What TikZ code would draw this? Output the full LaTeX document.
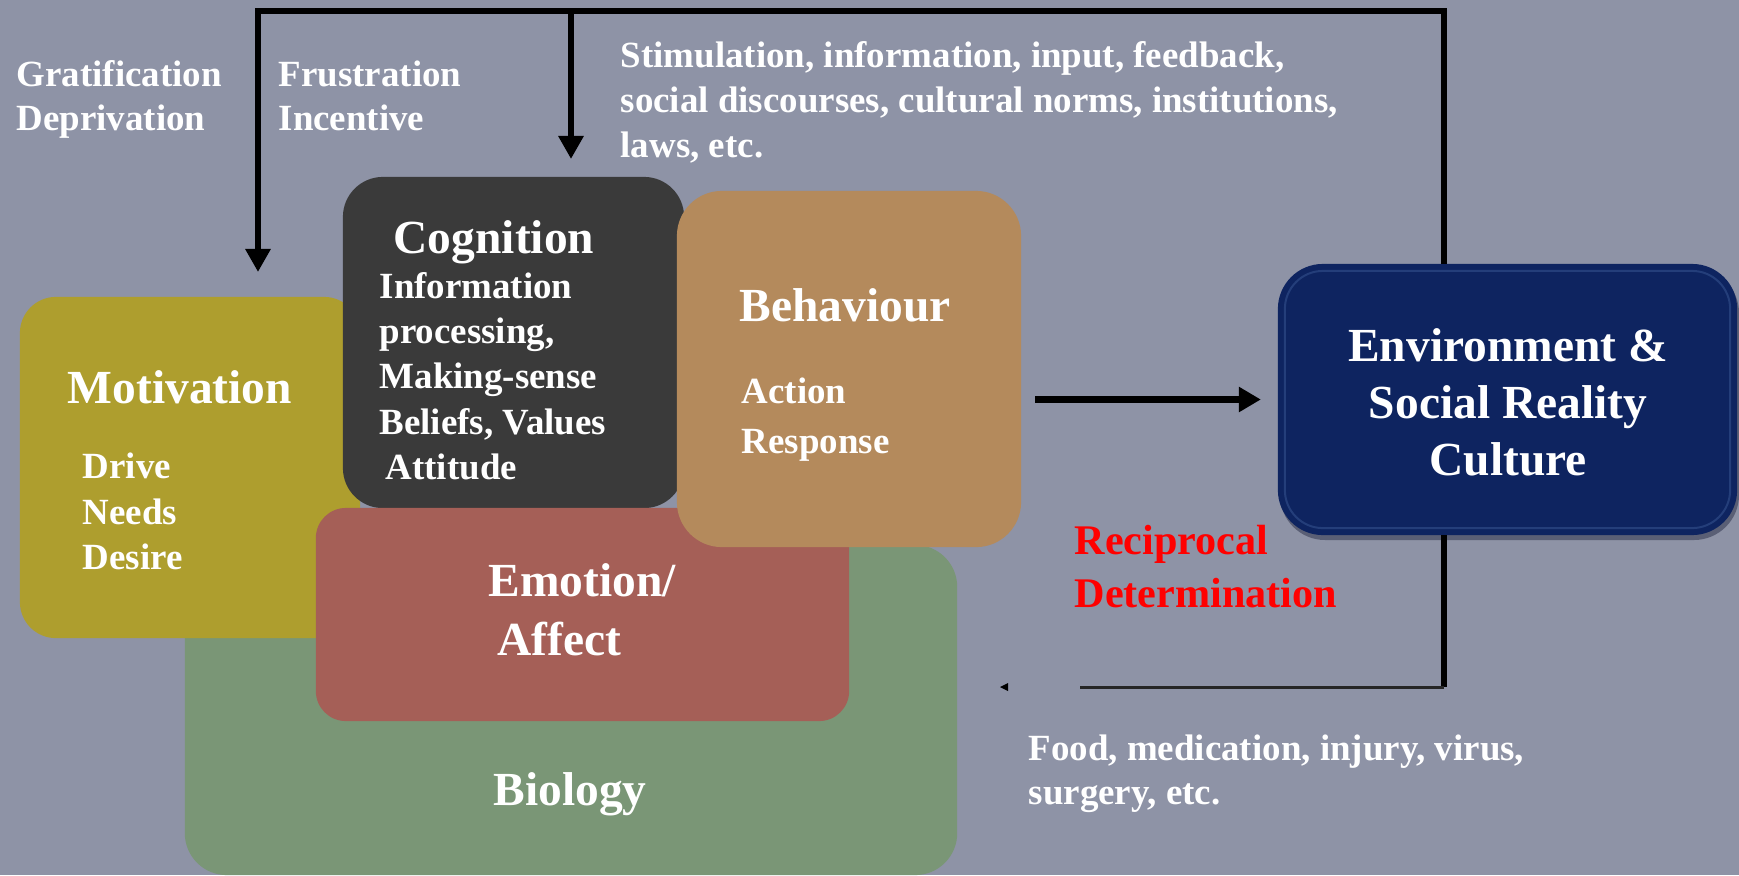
\documentclass[tikz,border=0pt]{standalone}
\usepackage{fontspec}
\setmainfont{Liberation Serif}
\usetikzlibrary{arrows.meta,positioning}

\definecolor{slateBg}{HTML}{8E93A6}
\definecolor{oliveBox}{HTML}{AE9E2E}
\definecolor{coalBox}{HTML}{3A3A3A}
\definecolor{tanBox}{HTML}{B48A5C}
\definecolor{brickBox}{HTML}{A55F57}
\definecolor{sageBox}{HTML}{7A9676}
\definecolor{navyBox}{HTML}{0E2460}
\definecolor{navyRim}{HTML}{243E7A}
\definecolor{navyShade}{HTML}{5A5F75}

\tikzset{
  panel/.style={inner sep=0pt, outer sep=0pt, rounded corners=#1},
  panel/.default=0.4cm,
  % multi-line labels sit on the baseline of their last line
  word/.style={text=white, font=\bfseries\fontsize{10.5}{#1}\selectfont,
    align=left, inner sep=0pt, anchor=base west},
  word/.default=12.5pt,
  title/.style={word, font=\bfseries\fontsize{13.5}{#1}\selectfont},
  title/.default=16.2pt,
  link/.style={line width=0.065cm, black},
  tip/.style={-{Triangle[length=0.23cm,width=0.24cm]}},
}

\begin{document}
\begin{tikzpicture}[x=0.01cm, y=-0.01cm]
  \useasboundingbox (0,0) rectangle (1739,875);
  \fill[slateBg] (0,0) rectangle (1739,875);

  % the five overlapping areas, back to front
  \node[panel=0.42cm, fill=sageBox, minimum width=7.72cm, minimum height=3.30cm] (bio) at (571,710) {};
  \node[panel=0.36cm, fill=oliveBox, minimum width=3.40cm, minimum height=3.41cm] (mot) at (190,467.5) {};
  \node[panel=0.40cm, fill=coalBox, minimum width=3.41cm, minimum height=3.31cm] (cog) at (513.5,342.5) {};
  \node[panel=0.30cm, fill=brickBox, minimum width=5.33cm, minimum height=2.13cm] (emo) at (582.5,614.5) {};
  \node[panel=0.45cm, fill=tanBox, minimum width=3.44cm, minimum height=3.56cm] (beh) at (849,369) {};

  % environment block with its rim
  \fill[navyShade, rounded corners=0.45cm] (1280,268) rectangle (1739,540);
  \node[panel=0.45cm, fill=navyBox, minimum width=4.59cm, minimum height=2.71cm] (env) at (1507.5,399.5) {};
  \draw[navyRim, line width=0.02cm, rounded corners=0.38cm]
    ([shift={(7,7)}]env.north west) rectangle ([shift={(-7,-7)}]env.south east);

  % labels
  \node[word] (grat) at (16,130) {Gratification\\Deprivation};
  \node[word] (frus) at (278,130) {Frustration\\Incentive};
  \node[word=12.7pt] (stim) at (620,157) {Stimulation, information, input, feedback,\\social discourses, cultural norms, institutions,\\laws, etc.};

  \node[title] (motT) at (67,403) {Motivation};
  \node[word=12.8pt] (motB) at (82,569) {Drive\\Needs\\Desire};

  \node[title] (cogT) at (393,253) {Cognition};
  \node[word=12.8pt] (cogB) at (379,479) {Information\\processing,\\Making-sense\\Beliefs, Values\\\hspace{0.06cm}Attitude};

  \node[title] (behT) at (739,321) {Behaviour};
  \node[word=14.2pt] (behB) at (741,453) {Action\\Response};

  \node[title=16.5pt] (emoT) at (488,655) {Emotion/\\\hspace{0.09cm}Affect};
  \node[title] (bioT) at (493,805) {Biology};

  \node[title, align=center, anchor=base] (envT) at (1508,475) {Environment \&\\Social Reality\\Culture};

  \node[word, text=red, font=\bfseries\fontsize{12}{14.8}\selectfont] (recip) at (1074,607) {Reciprocal\\Determination};
  \node[word] (food) at (1028,804) {Food, medication, injury, virus,\\surgery, etc.};

  % feedback loop from the environment
  \coordinate (rise) at (1444,11);
  \coordinate (left) at (258,11);
  \coordinate (mid) at (571,11);
  \coordinate (motIn) at (258,272);
  \coordinate (cogIn) at (571,159);
  \coordinate (drop) at (1444,687);
  \coordinate (stub) at (1080,687);

  \draw[link, tip] (env.north -| rise) -- (rise) -- (left) -- (motIn);
  \draw[link, tip] (mid) -- (cogIn);
  \draw[link, -{Triangle[length=0.22cm,width=0.24cm]}, shorten <=0.14cm, shorten >=0.17cm]
    (beh.east |- env.west) -- (env.west);

  \draw[link] (env.south -| drop) -- (drop);
  \draw[line width=0.03cm, black!85] (drop) -- (stub);
  \fill[black] (1000,687) -- (1008,683) -- (1008,691) -- cycle;
\end{tikzpicture}
\end{document}
